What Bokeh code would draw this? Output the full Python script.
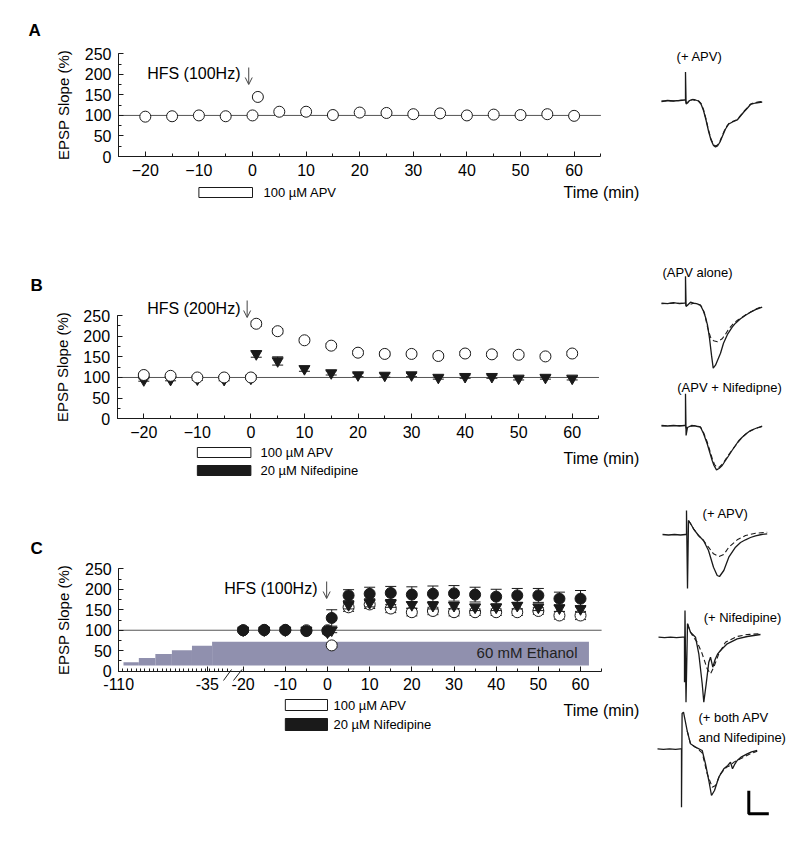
import numpy as np
from bokeh.plotting import figure
from bokeh.models import (Range1d, LinearAxis, SingleIntervalTicker, FixedTicker,
                          Arrow, OpenHead)
from bokeh.layouts import row, column
from bokeh.embed import file_html
from bokeh.resources import INLINE
from bokeh.core.properties import value

FONT = "Liberation Sans"

# ---------------- data ----------------
time_min = [-20, -15, -10, -5, 0, 1, 5, 10, 15, 20, 25, 30, 35, 40, 45, 50, 55, 60]
baseline_pct = 100
hfs_time = 0
apv_period = (-10, 0)
nif_period = (-10, 0)

# Panel A: HFS (100Hz) in APV
a_apv = [97, 98, 100, 98, 100, 145, 109, 109, 101, 107, 106, 103, 105, 100, 102, 101, 103, 99]

# Panel B: HFS (200Hz)
b_apv = [106, 104, 100, 100, 100, 230, 212, 190, 177, 160, 157, 157, 152, 158, 156, 155, 151, 158]
b_apv_err = [4, 4, 3, 3, 3, 6, 6, 5, 5, 5, 5, 5, 5, 5, 5, 5, 5, 5]
b_nif = [94, 95, 96, 95, 98, 157, 140, 121, 111, 106, 105, 106, 100, 102, 102, 98, 100, 98]
b_nif_err = [3, 3, 3, 3, 3, 8, 10, 6, 5, 4, 4, 4, 4, 4, 4, 4, 4, 4]

# Panel C: HFS (100Hz) in 60 mM ethanol
c_eth = [100, 101, 101, 98, 98, 130, 185, 189, 191, 187, 189, 190, 187, 182, 185, 185, 177, 177]
c_eth_err = [4, 4, 4, 4, 4, 20, 14, 16, 16, 19, 19, 19, 18, 18, 17, 17, 16, 20]
c_nif = [100, 100, 100, 100, 95, 100, 162, 167, 165, 162, 160, 160, 156, 156, 160, 156, 154, 152]
c_nif_err = [3, 3, 3, 3, 4, 6, 10, 10, 9, 8, 8, 8, 8, 8, 8, 8, 8, 8]
c_apv = [100, 100, 100, 100, 100, 63, 156, 163, 153, 144, 147, 144, 144, 144, 144, 147, 136, 136]
c_apv_err = [3, 3, 3, 3, 3, 5, 10, 10, 10, 9, 9, 9, 8, 8, 8, 8, 9, 10]

# ethanol wash-in staircase
eth_step_time = [-106, -93, -79, -65, -48, -33]
eth_step_level = [22, 32, 42, 51, 62, 72]
eth_end_time = 62
eth_floor = 14

c_tick_times = [-110, -35, -20, -10, 0, 10, 20, 30, 40, 50, 60]

# field EPSP traces: (time from stimulus, deflection; downward positive), arbitrary units
trA_s_t = [-24, -18, -12, -6, -1, 0, 0, 0.6, 2, 4, 7, 10, 13, 15.5, 18, 20.5, 23, 25.5, 28, 30, 32, 34.5, 37, 40, 43.3, 47, 51.7, 55, 58.3, 62, 65, 70, 76.7]
trA_s_v = [1.5, 0.5, 1, 0.5, 0, 0, -28, 4, 3, 0.5, -0.5, 0, 1, 4, 10.5, 20, 31, 40, 45.5, 47, 46, 42, 36, 29, 24, 22, 20, 16, 12, 8, 4.5, 3, 2]
trA_d_t = [-24, -12, -1, 0, 0.6, 2, 7, 13, 15.5, 18, 20.5, 23, 25.5, 28, 30, 32, 34.5, 37, 40, 43.3, 47, 51.7, 55, 58.3, 62, 65, 70, 76.7]
trA_d_v = [1, 1, 0, 0, 3, 2, -0.5, 1, 3.5, 9.5, 19, 30, 39, 44.5, 46, 45, 41, 35, 28, 23.5, 21.5, 19.5, 15.5, 11.5, 7.5, 4, 2.5, 1.5]

trB1_s_t = [-24, -18, -12, -6, -1, 0, 0, 0.6, 2, 5, 8, 11, 15, 18, 20, 22, 24, 26, 27.7, 30, 32.5, 35, 38, 42.3, 46.7, 50, 55, 60, 65, 70, 76.7]
trB1_s_v = [0, 0.5, -0.5, 0.5, 0, 0, -27, 3, 2, -1, 0, 0.5, 2, 8, 14, 22, 35, 52, 65, 62, 56, 50, 40, 30.6, 24, 20, 15.6, 12, 9, 6.5, 4]
trB1_d_t = [-24, -12, -1, 0, 0.6, 2, 8, 15, 17, 19, 22, 25, 28, 32, 36.7, 40, 43.3, 48.3, 52, 56.7, 61, 66.7, 71, 76.7]
trB1_d_v = [0.5, 0, 0, 0, 3, 2, 0, 2, 5, 10, 24, 34, 37.5, 38.5, 35.6, 31, 25.6, 20, 17, 14, 11, 8, 5.5, 3.3]

trB2_s_t = [-24, -18, -12, -6, -1, 0, 0, 0.6, 2, 6, 10, 15, 18, 21.7, 24, 26.7, 28.5, 31, 33.5, 36.7, 40, 43.3, 46.5, 50, 53, 56.7, 61, 65, 70, 76.7]
trB2_s_v = [0, 0.5, 0, 0.5, 0, 0, -31.7, 10, 2, 0, 0.5, 1.7, 8, 18.3, 26, 35, 40, 44.3, 43, 40, 35, 30, 25, 20, 15.5, 11.7, 8, 5, 3, 0.7]
trB2_d_t = [-24, -12, -1, 0, 0.6, 2, 10, 15, 18, 21.7, 24, 26.7, 29, 31.5, 34, 37, 40, 43.3, 47, 50, 54, 57.5, 61, 65, 70, 76.7]
trB2_d_v = [0.5, 0, 0, 0, 3, 1.5, 0, 1.5, 7, 16.5, 24, 33, 39, 42, 41.5, 38.5, 34, 29, 24, 20, 15, 11, 8, 5.5, 3, 1]

trC1_s_t = [-24, -18, -12, -6, -1, 0, 0, 1, 2, 4, 7, 12, 17, 22, 27, 30.7, 33, 37.3, 42.3, 49, 54, 59, 64, 69, 75, 80.7]
trC1_s_v = [0, 0.5, 0, 0.5, 0, 0, -24, 54, -14, -11, -5.7, 1, 6, 16, 32.7, 41, 42, 36, 22.7, 12.7, 8, 5.3, 3, 1.3, 0, -0.7]
trC1_d_t = [2, 4, 7, 12, 17, 22, 27, 32.3, 37.3, 42.3, 50.7, 59, 69, 80.7]
trC1_d_v = [-14, -11, -5.7, 1, 6, 12.7, 19.3, 22, 20, 12.7, 5.3, 1, -1.3, -2.3]

trC2_s_t = [-26, -20, -14, -8, -2, 0, 0, 0.5, 1.5, 3, 6, 11, 14.3, 17.7, 19.3, 21.7, 24.3, 26, 28.3, 30.7, 33, 36, 42.7, 52.7, 62.7, 76]
trC2_s_v = [0, 0.5, 0, 0.5, 0, 0, 45, -26.7, 65, -13.4, -5, 0, 16.6, 46.6, 65, 46.6, 25, 20, 30, 22, 17, 13.3, 6.6, 1.6, -0.7, -2.7]
trC2_d_t = [3, 6, 9, 12.7, 17.7, 22.7, 26, 29.3, 34.3, 41, 52.7, 62.7, 76]
trC2_d_v = [-13.4, -5, 0, 5, 16.6, 31.6, 36.6, 30, 16.6, 5, -0.7, -2.7, -3.4]

trC3_s_t = [-24, -18, -12, -6, -1, 0, 0, 0.6, 2, 5.7, 9, 14, 20.7, 24, 27.3, 30, 33, 37.3, 42.3, 46.3, 49, 51, 53.5, 55.7, 60, 65.7, 70, 75.7]
trC3_s_v = [0, 0.5, 0, 0.5, 0, 0, 58.4, -35.3, -36.6, -18, -5, -1.6, 1.7, 15, 31.7, 46.7, 41.7, 28.4, 20, 16.7, 13.4, 20, 15, 11.7, 8, 5, 3, 1.7]
trC3_d_t = [5.7, 9, 14, 20.7, 25.7, 30.7, 34, 39, 45, 49, 52.3, 59, 69, 75.7]
trC3_d_v = [-18, -5, -1.6, 4, 25, 38.4, 36.7, 25, 18.4, 16.7, 13.4, 10, 5, 2.4]

scale_bar_x = 20
scale_bar_y = 23

# ---------------- layout constants (reference pixels) ----------------
REF_LEFT = 0
LEFT_W = 640
RIGHT_W = 152
TOTAL_H = 842
INK = "#1a1a1a"
ETH_COLOR = "#9090ae"


def tmap(t):
    """broken time axis of panel C"""
    t = np.asarray(t, dtype=float)
    gap = -28.5 + (t + 35) * (8.5 / 15)
    comp = -28.5 + (t + 35) * 0.28
    return np.where(t >= -20, t, np.where(t >= -35, gap, comp))


def make_panel(ref_top, ref_bottom, x0, sx, y0, sy):
    xs = (REF_LEFT - x0) / sx
    xe = (REF_LEFT + LEFT_W - x0) / sx
    ys = (y0 - ref_bottom) / sy
    ye = (y0 - ref_top) / sy
    p = figure(width=LEFT_W, height=ref_bottom - ref_top,
               x_range=Range1d(xs, xe), y_range=Range1d(ys, ye),
               x_axis_location=None, y_axis_location=None,
               toolbar_location=None, output_backend="svg",
               min_border=0, title=None, tools="")
    p.outline_line_color = None
    p.xgrid.visible = False
    p.ygrid.visible = False
    fx = lambda px: (px - x0) / sx
    fy = lambda py: (y0 - py) / sy
    return p, fx, fy


def style_axis(ax):
    ax.axis_line_color = INK
    ax.axis_line_width = 1
    ax.major_tick_line_color = INK
    ax.minor_tick_line_color = INK
    ax.major_tick_in = 5
    ax.major_tick_out = 0
    ax.minor_tick_in = 3
    ax.minor_tick_out = 0
    ax.major_label_text_font = FONT
    ax.major_label_text_font_size = "16px"
    ax.major_label_text_color = "black"
    ax.axis_label_text_font = FONT
    ax.axis_label_text_font_size = "15px"
    ax.axis_label_text_font_style = "normal"
    ax.axis_label_text_color = "black"


def add_axes(p, x_lo, x_hi, xticker):
    xa = LinearAxis(fixed_location=0, bounds=(x_lo, x_hi), ticker=xticker)
    style_axis(xa)
    xa.major_label_standoff = 7
    ya = LinearAxis(fixed_location=x_lo, bounds=(0, 250),
                    ticker=SingleIntervalTicker(interval=50, num_minor_ticks=2),
                    axis_label="EPSP Slope (%)")
    style_axis(ya)
    ya.major_label_standoff = 7
    ya.axis_label_standoff = 10
    p.add_layout(xa, "below")
    p.add_layout(ya, "left")
    return xa


def txt(p, x, y, s, size="16px", align="left", style="normal", color="black"):
    p.text(x=[x], y=[y], text=[s], text_font=value(FONT), text_font_size=size,
           text_align=align, text_baseline="middle", text_font_style=style,
           text_color=color)


def errbars(p, x, y, e, color=INK, cap_color=INK):
    lo = [a - b for a, b in zip(y, e)]
    hi = [a + b for a, b in zip(y, e)]
    p.segment(x0=x, y0=lo, x1=x, y1=hi, line_color=color, line_width=1)
    p.scatter(x=x, y=hi, marker="dash", size=11, line_color=cap_color, line_width=1)
    p.scatter(x=x, y=lo, marker="dash", size=11, line_color=cap_color, line_width=1)


def hfs_arrow(p, x, y0, y1):
    p.add_layout(Arrow(end=OpenHead(size=7, line_width=1, line_color="#444"),
                       x_start=x, y_start=y0, x_end=x, y_end=y1,
                       line_width=1, line_color="#444"))


X_LO, X_HI = -25, 65

# ---------------- Panel A ----------------
pA, fxA, fyA = make_panel(0, 250, 252, 5.36, 156, 0.4107)
add_axes(pA, X_LO, X_HI, SingleIntervalTicker(interval=10, num_minor_ticks=2))
pA.line([X_LO, X_HI], [baseline_pct, baseline_pct], line_color="#555", line_width=1)
pA.scatter(time_min, a_apv, marker="circle", size=11, fill_color="white",
           line_color=INK, line_width=1)
txt(pA, fxA(28), fyA(30), "A", size="17px", style="bold")
txt(pA, fxA(240), fyA(73), "HFS (100Hz)", align="right")
hfs_arrow(pA, hfs_time - 0.7, fyA(67), fyA(84))
pA.quad(left=[apv_period[0]], right=[apv_period[1]], bottom=[fyA(197)], top=[fyA(187)],
        fill_color="white", line_color=INK, line_width=1)
txt(pA, fxA(263), fyA(192), "100 \u00b5M APV", size="13px")
txt(pA, fxA(563), fyA(192), "Time (min)")

# ---------------- Panel B ----------------
pB, fxB, fyB = make_panel(250, 530, 250.4, 5.355, 418.3, 0.4132)
add_axes(pB, X_LO, X_HI, SingleIntervalTicker(interval=10, num_minor_ticks=2))
pB.line([X_LO, X_HI], [baseline_pct, baseline_pct], line_color="#555", line_width=1)
errbars(pB, time_min, b_nif, b_nif_err)
pB.scatter(time_min, b_nif, marker="inverted_triangle", size=11, fill_color=INK,
           line_color=INK)
errbars(pB, time_min, b_apv, b_apv_err)
pB.scatter(time_min, b_apv, marker="circle", size=11, fill_color="white",
           line_color=INK, line_width=1)
txt(pB, fxB(30), fyB(285), "B", size="17px", style="bold")
txt(pB, fxB(240), fyB(308), "HFS (200Hz)", align="right")
hfs_arrow(pB, hfs_time - 0.7, fyB(300), fyB(317))
pB.quad(left=[apv_period[0]], right=[apv_period[1]], bottom=[fyB(457)], top=[fyB(447)],
        fill_color="white", line_color=INK, line_width=1)
pB.quad(left=[nif_period[0]], right=[nif_period[1]], bottom=[fyB(475)], top=[fyB(465)],
        fill_color=INK, line_color=INK, line_width=1)
txt(pB, fxB(260), fyB(452), "100 \u00b5M APV", size="13px")
txt(pB, fxB(260), fyB(470), "20 \u00b5M Nifedipine", size="13px")
txt(pB, fxB(563), fyB(458), "Time (min)")

# ---------------- Panel C ----------------
pC, fxC, fyC = make_panel(530, 842, 327, 4.217, 670.7, 0.4096)
u_lo = float(tmap(-110))
c_ticks = [float(v) for v in tmap(c_tick_times)]
minor_left = [float(v) for v in np.arange(u_lo + 1.0, -23.0, 1.03)]
minor_right = [-15, -5, 5, 15, 25, 35, 45, 55, 65]
xa_c = add_axes(pC, u_lo, X_HI, FixedTicker(ticks=c_ticks, minor_ticks=minor_left + minor_right))
xa_c.major_label_overrides = {u: str(t) for u, t in zip(c_ticks, c_tick_times)}

# ethanol staircase
edges = list(eth_step_time) + [eth_end_time]
pC.quad(left=list(tmap(edges[:-1])), right=list(tmap(edges[1:])),
        bottom=[eth_floor] * len(eth_step_level), top=eth_step_level,
        fill_color=ETH_COLOR, line_color=None)
txt(pC, fxC(577), fyC(651.7), "60 mM Ethanol", size="15px", align="right", color="#222")
pC.line([u_lo, X_HI], [baseline_pct, baseline_pct], line_color="#555", line_width=1)

tc = list(tmap(time_min))
errbars(pC, tc, c_apv, c_apv_err)
pC.scatter(tc, c_apv, marker="circle", size=11, fill_color="white", line_color=INK, line_width=1)
errbars(pC, tc, c_nif, c_nif_err)
pC.scatter(tc, c_nif, marker="inverted_triangle", size=11, fill_color=INK, line_color=INK)
errbars(pC, tc, c_eth, c_eth_err)
pC.scatter(tc, c_eth, marker="circle", size=11, fill_color=INK, line_color=INK)

# axis break marks
pC.segment(x0=[fxC(223), fxC(233)], y0=[fyC(680), fyC(680)],
           x1=[fxC(231), fxC(241.5)], y1=[fyC(669), fyC(669)],
           line_color=INK, line_width=1)

txt(pC, fxC(30), fyC(548), "C", size="17px", style="bold")
txt(pC, fxC(317), fyC(588.3), "HFS (100Hz)", align="right")
hfs_arrow(pC, hfs_time - 0.2, fyC(581), fyC(598))
pC.quad(left=[apv_period[0]], right=[apv_period[1]], bottom=[fyC(710)], top=[fyC(699)],
        fill_color="white", line_color=INK, line_width=1)
pC.quad(left=[nif_period[0]], right=[nif_period[1]], bottom=[fyC(730)], top=[fyC(718)],
        fill_color=INK, line_color=INK, line_width=1)
txt(pC, fxC(333), fyC(704.5), "100 \u00b5M APV", size="13px")
txt(pC, fxC(333), fyC(724), "20 \u00b5M Nifedipine", size="13px")
txt(pC, fxC(563), fyC(710), "Time (min)")

# ---------------- traces ----------------
pT = figure(width=RIGHT_W, height=TOTAL_H, x_range=Range1d(640, 792),
            y_range=Range1d(842, 0), x_axis_location=None, y_axis_location=None,
            toolbar_location=None, output_backend="svg", min_border=0,
            title=None, tools="")
pT.outline_line_color = None
pT.xgrid.visible = False
pT.ygrid.visible = False


def draw_trace(anchor, t, v, dashed=False, width=1.2):
    xs = [anchor[0] + a for a in t]
    ys = [anchor[1] + b for b in v]
    pT.line(xs, ys, line_color=INK, line_width=width,
            line_dash="5 3" if dashed else "solid")


traces = [
    ((685, 99.5), trA_s_t, trA_s_v, trA_d_t, trA_d_v),
    ((685, 302.7), trB1_s_t, trB1_s_v, trB1_d_t, trB1_d_v),
    ((685, 425), trB2_s_t, trB2_s_v, trB2_d_t, trB2_d_v),
    ((686, 534), trC1_s_t, trC1_s_v, trC1_d_t, trC1_d_v),
    ((684, 636.7), trC2_s_t, trC2_s_v, trC2_d_t, trC2_d_v),
    ((681, 748.3), trC3_s_t, trC3_s_v, trC3_d_t, trC3_d_v),
]
for anc, st, sv, dt, dv in traces:
    draw_trace(anc, dt, dv, dashed=True, width=1.1)
    draw_trace(anc, st, sv, width=1.3)


def ttxt(x, y, s, align="center"):
    pT.text(x=[x], y=[y], text=[s], text_font=value(FONT), text_font_size="13px",
            text_align=align, text_baseline="middle", text_color="black")


ttxt(699, 56, "(+ APV)")
ttxt(697, 272, "(APV alone)")
ttxt(729, 387, "(APV + Nifedipne)")
ttxt(725, 513, "(+ APV)")
ttxt(742, 617, "(+ Nifedipine)")
ttxt(698, 717, "(+ both APV", align="left")
ttxt(698, 737, "and Nifedipine)", align="left")

# scale bar
sb = (748.3, 813.3)
pT.line([sb[0], sb[0], sb[0] + scale_bar_x], [sb[1] - scale_bar_y, sb[1], sb[1]],
        line_color="black", line_width=3)

layout = row(column(pA, pB, pC), pT)
open("out.html", "w").write(file_html(layout, INLINE))
